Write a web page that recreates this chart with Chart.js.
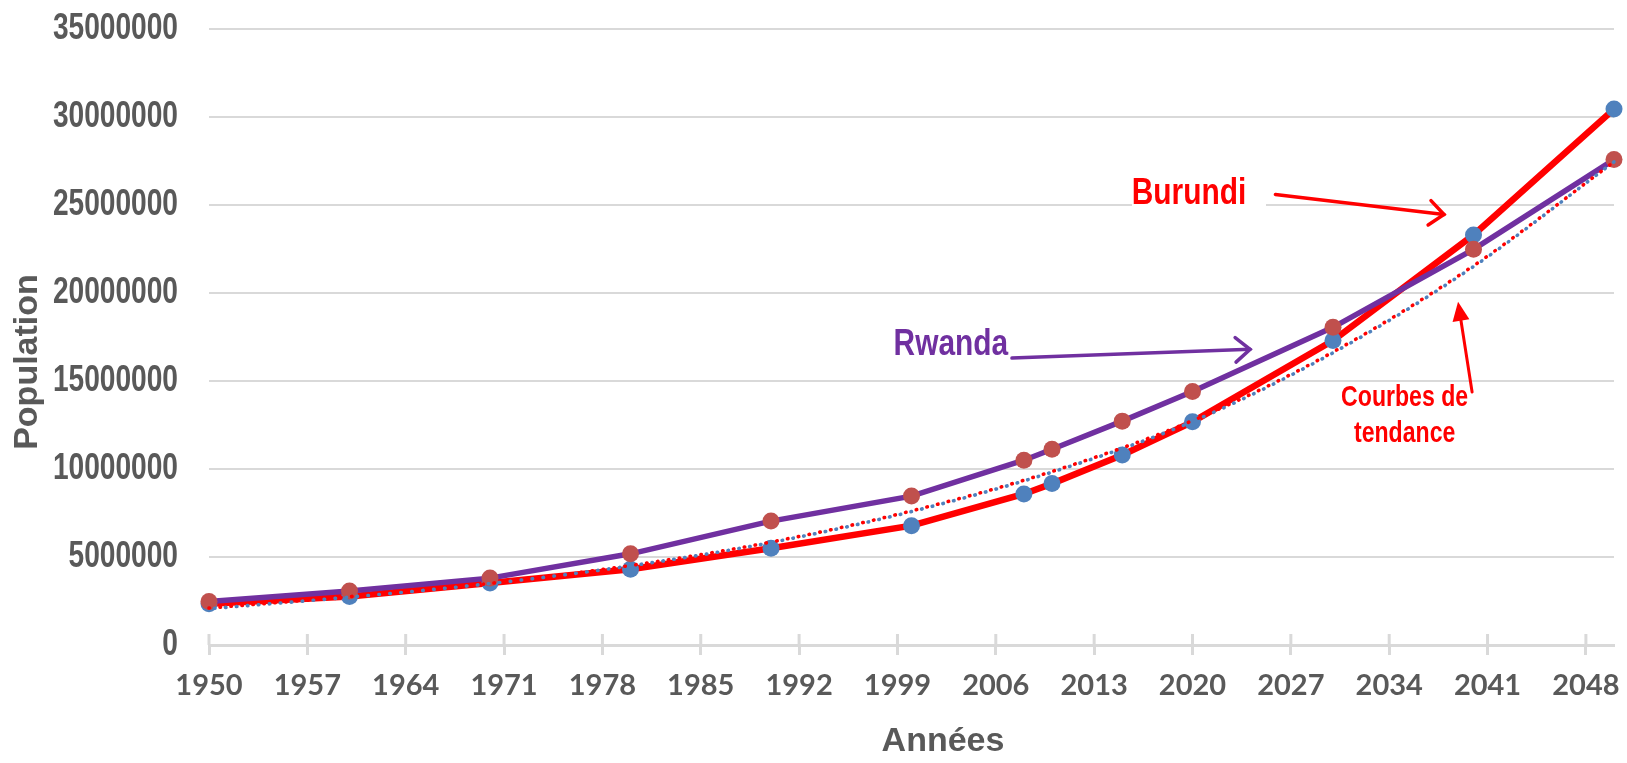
<!DOCTYPE html>
<html lang="fr">
<head>
<meta charset="utf-8">
<title>Population Burundi / Rwanda 1950-2050</title>
<script src="https://cdn.jsdelivr.net/npm/chart.js@4.4.1/dist/chart.umd.min.js"></script>
<style>
  html, body { margin: 0; padding: 0; background: #fff; }
  canvas { display: block; }
</style>
</head>
<body>
<canvas id="popChart" width="1627" height="763"></canvas>
<script>
// années des points (observés puis projetés)
const annees = [1950, 1960, 1970, 1980, 1990, 2000, 2008, 2010, 2015, 2020, 2030, 2040, 2050];
const burundi = [2340000, 2760000, 3520000, 4300000, 5500000, 6780000, 8580000, 9170000, 10800000, 12680000, 17300000, 23300000, 30450000];
const rwanda = [2470000, 3070000, 3800000, 5180000, 7040000, 8460000, 10500000, 11120000, 12720000, 14400000, 18050000, 22480000, 27580000];

// courbes de tendance
const anneesTendance = [1950, 1960, 1970, 1980, 1990, 2000, 2010, 2020, 2030, 2040, 2050];
const tendanceBurundi = [2100000, 2750000, 3500000, 4520000, 5850000, 7620000, 9860000, 12750000, 16650000, 21550000, 27450000];
const tendanceRwanda = [2060000, 2720000, 3490000, 4500000, 5820000, 7580000, 9820000, 12700000, 16600000, 21500000, 27450000];

// graduations
const xTicks = [1950, 1957, 1964, 1971, 1978, 1985, 1992, 1999, 2006, 2013, 2020, 2027, 2034, 2041, 2048];
const yMax = 35000000;
const yStep = 5000000;

const SANS = "'Liberation Sans', Arial, sans-serif";
const GREY = '#595959';
const GRID = '#d9d9d9';

// étiquettes et flèches, placées en coordonnées (année, population)
const notes = [
  { text: 'Burundi', color: '#ff0000', at: [2019.75, 25600000], box: [-57, 77], arrow: { from: [2025.9, 25600000], to: [2037.9, 24460000] } },
  { text: 'Rwanda', color: '#7030a0', at: [2002.8, 17050000], box: [-57, 81], arrow: { from: [2007.15, 16300000], to: [2024.1, 16800000] } },
];
const noteTendance = { lines: ['Courbes de', 'tendance'], color: '#ff0000', at: [2035.1, 13000000], arrow: { from: [2039.9, 14370000], to: [2038.9, 19500000] } };

function px(chart, p) {
  return [chart.scales.x.getPixelForValue(p[0]), chart.scales.y.getPixelForValue(p[1])];
}

// texte gras resserré (police étroite type Arial Narrow)
function narrowText(ctx, text, x, y, size, sx) {
  ctx.save();
  ctx.font = 'bold ' + size + 'px ' + SANS;
  ctx.translate(x, y);
  ctx.scale(sx, 1);
  ctx.fillText(text, 0, 0);
  ctx.restore();
}

function drawArrow(ctx, a, b, color, width, head) {
  const ang = Math.atan2(b[1] - a[1], b[0] - a[0]);
  ctx.save();
  ctx.strokeStyle = color;
  ctx.fillStyle = color;
  ctx.lineWidth = width;
  ctx.lineCap = 'round';
  ctx.beginPath();
  ctx.moveTo(a[0], a[1]);
  if (head === 'open') {
    ctx.lineTo(b[0], b[1]);
    ctx.stroke();
    ctx.beginPath();
    ctx.moveTo(b[0] - 19 * Math.cos(ang - 0.7), b[1] - 19 * Math.sin(ang - 0.7));
    ctx.lineTo(b[0], b[1]);
    ctx.lineTo(b[0] - 19 * Math.cos(ang + 0.7), b[1] - 19 * Math.sin(ang + 0.7));
    ctx.stroke();
  } else {
    const back = 19;
    ctx.lineTo(b[0] - back * Math.cos(ang), b[1] - back * Math.sin(ang));
    ctx.stroke();
    ctx.beginPath();
    ctx.moveTo(b[0], b[1]);
    ctx.lineTo(b[0] - back * Math.cos(ang) + 8.5 * Math.sin(ang), b[1] - back * Math.sin(ang) - 8.5 * Math.cos(ang));
    ctx.lineTo(b[0] - back * Math.cos(ang) - 8.5 * Math.sin(ang), b[1] - back * Math.sin(ang) + 8.5 * Math.cos(ang));
    ctx.closePath();
    ctx.fill();
  }
  ctx.restore();
}

const decor = {
  id: 'decor',
  beforeDraw(chart) {
    const ctx = chart.ctx;
    ctx.save();
    ctx.fillStyle = '#fff';
    ctx.fillRect(0, 0, chart.width, chart.height);
    ctx.restore();
  },
  beforeDatasetsDraw(chart) {
    const { ctx, scales: { x, y } } = chart;
    ctx.save();
    // graduations qui traversent l'axe
    ctx.strokeStyle = GRID;
    ctx.lineWidth = 3;
    x.ticks.forEach(t => {
      const p = x.getPixelForValue(t.value);
      ctx.beginPath();
      ctx.moveTo(p, y.bottom - 11);
      ctx.lineTo(p, y.bottom);
      ctx.stroke();
    });
    // fond blanc des étiquettes (coupe le quadrillage)
    ctx.fillStyle = '#fff';
    notes.forEach(n => {
      const [cx, cy] = px(chart, n.at);
      ctx.fillRect(cx + n.box[0], cy - 22, n.box[1] - n.box[0], 44);
    });
    ctx.restore();
  },
  afterDraw(chart) {
    const { ctx, scales: { y } } = chart;
    ctx.save();
    ctx.textBaseline = 'middle';

    // étiquettes de l'axe vertical
    ctx.textAlign = 'right';
    ctx.fillStyle = GREY;
    y.ticks.forEach(t => {
      narrowText(ctx, String(t.value), chart.chartArea.left - 31, y.getPixelForValue(t.value), 37, 0.76);
    });

    ctx.textAlign = 'center';
    notes.forEach(n => {
      const [cx, cy] = px(chart, n.at);
      ctx.fillStyle = n.color;
      narrowText(ctx, n.text, cx, cy, 36, 0.83);
      drawArrow(ctx, px(chart, n.arrow.from), px(chart, n.arrow.to), n.color, 3.5, 'open');
    });
    const [tx, ty] = px(chart, noteTendance.at);
    ctx.fillStyle = noteTendance.color;
    noteTendance.lines.forEach((l, i) => narrowText(ctx, l, tx, ty - 18 + i * 36, 30, 0.77));
    drawArrow(ctx, px(chart, noteTendance.arrow.from), px(chart, noteTendance.arrow.to), noteTendance.color, 3, 'filled');

    // titres des axes
    ctx.fillStyle = GREY;
    ctx.font = 'bold 34px ' + SANS;
    ctx.fillText('Années', 943, 742);
    ctx.translate(28, 362);
    ctx.rotate(-Math.PI / 2);
    ctx.fillText('Population', 0, 0);
    ctx.restore();
  }
};

const toXY = (xs, ys) => xs.map((v, i) => ({ x: v, y: ys[i] }));

// pas de marge automatique autour des axes : la zone de tracé suit layout.padding
const noAutoPadding = s => {
  s.paddingLeft = 0;
  s.paddingRight = 0;
  s.paddingTop = 0;
  s.paddingBottom = 0;
};

new Chart(document.getElementById('popChart'), {
  type: 'line',
  data: {
    datasets: [
      {
        label: 'Tendance Rwanda',
        data: toXY(anneesTendance, tendanceRwanda),
        borderColor: '#4f81bd',
        borderWidth: 3.6,
        borderDash: [0.5, 10.5],
        borderDashOffset: 5.5,
        borderCapStyle: 'round',
        cubicInterpolationMode: 'monotone',
        pointRadius: 0,
        fill: false
      },
      {
        label: 'Tendance Burundi',
        data: toXY(anneesTendance, tendanceBurundi),
        borderColor: '#ff0000',
        borderWidth: 3.6,
        borderDash: [0.5, 10.5],
        borderCapStyle: 'round',
        cubicInterpolationMode: 'monotone',
        pointRadius: 0,
        fill: false
      },
      {
        label: 'Rwanda',
        data: toXY(annees, rwanda),
        borderColor: '#7030a0',
        borderWidth: 5.5,
        pointRadius: 8.5,
        pointBackgroundColor: '#c0504d',
        pointBorderWidth: 0,
        tension: 0,
        fill: false
      },
      {
        label: 'Burundi',
        data: toXY(annees, burundi),
        borderColor: '#ff0000',
        borderWidth: 6.5,
        pointRadius: 8.5,
        pointBackgroundColor: '#4f81bd',
        pointBorderWidth: 0,
        tension: 0,
        fill: false
      }
    ]
  },
  options: {
    responsive: false,
    animation: false,
    devicePixelRatio: 1,
    clip: false,
    layout: { padding: { left: 0, right: 13, top: 29, bottom: 0 } },
    plugins: { legend: { display: false }, tooltip: { enabled: false } },
    scales: {
      x: {
        type: 'linear',
        min: 1950,
        max: 2050,
        afterBuildTicks: s => { s.ticks = xTicks.map(v => ({ value: v })); },
        afterFit: s => { s.height = 118; noAutoPadding(s); },
        grid: { drawOnChartArea: false, drawTicks: true, tickLength: 10, tickWidth: 3, tickColor: GRID, color: GRID },
        border: { display: true, color: GRID, width: 3 },
        ticks: {
          autoSkip: false,
          maxRotation: 0,
          padding: 13,
          color: GREY,
          font: { family: 'Lato', size: 29, weight: 'bold' },
          callback: v => String(v)
        }
      },
      y: {
        min: 0,
        max: yMax,
        afterFit: s => { s.width = 209; noAutoPadding(s); },
        grid: { color: GRID, lineWidth: 2, drawTicks: false },
        border: { display: false },
        ticks: {
          display: false,
          stepSize: yStep,
          callback: v => String(v)
        }
      }
    }
  },
  plugins: [decor]
});
</script>
</body>
</html>
